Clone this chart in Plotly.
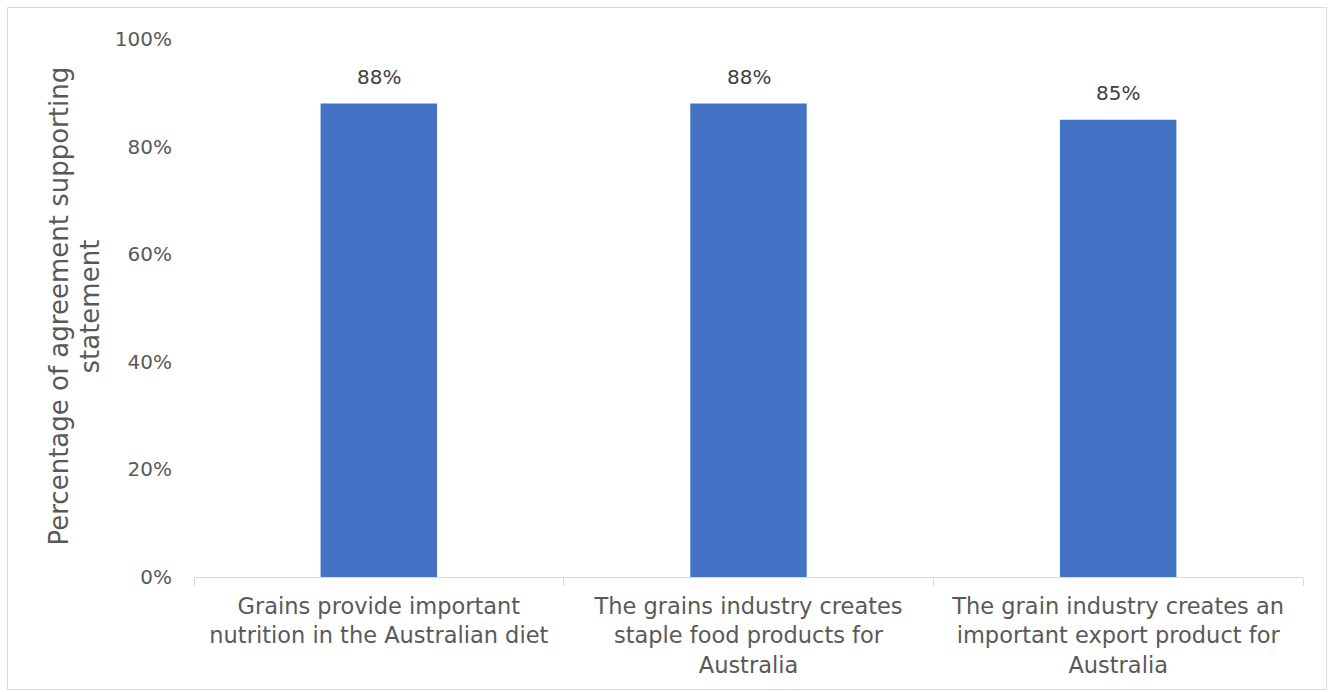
import plotly.graph_objects as go

categories = [
    "Grains provide important<br>nutrition in the Australian diet",
    "The grains industry creates<br>staple food products for<br>Australia",
    "The grain industry creates an<br>important export product for<br>Australia",
]
values = [88, 88, 85]
value_labels = ["88%", "88%", "85%"]
y_ticks = [0, 20, 40, 60, 80, 100]
y_tick_labels = ["0%", "20%", "40%", "60%", "80%", "100%"]
y_title_lines = ["Percentage of agreement supporting", "statement"]

FONT = "'DejaVu Sans', sans-serif"
GREY = "#595959"

fig = go.Figure(
    go.Bar(
        x=categories,
        y=values,
        marker=dict(color="#4472C4", line=dict(width=0)),
        width=0.315,
        hoverinfo="skip",
    )
)

for c, v, t in zip(categories, values, value_labels):
    fig.add_annotation(
        x=c, y=v, text=t, showarrow=False,
        yanchor="bottom", yshift=13,
        font=dict(family=FONT, size=20, color="#404040"),
    )

L, R, T, B = 194, 26, 39, 115
W, H = 1329, 692
pw, ph = W - L - R, H - T - B

def px_x(p):
    return (p - L) / pw

def px_y(p):
    return (H - B - p) / ph

fig.add_shape(
    type="rect", xref="paper", yref="paper",
    x0=px_x(7.5), x1=px_x(1326.5), y0=px_y(689.5), y1=px_y(7.5),
    line=dict(color="#d9d9d9", width=1), fillcolor="rgba(0,0,0,0)", layer="below",
)

for line_text, cx in zip(y_title_lines, [58, 89]):
    fig.add_annotation(
        xref="paper", yref="paper", x=px_x(cx), y=px_y(306.5),
        xanchor="center", yanchor="middle", textangle=-90,
        text=line_text, showarrow=False,
        font=dict(family=FONT, size=26, color=GREY),
    )

fig.update_layout(
    width=W, height=H,
    margin=dict(l=L, r=R, t=T, b=B),
    paper_bgcolor="white", plot_bgcolor="white",
    showlegend=False,
    font=dict(family=FONT, color=GREY),
    xaxis=dict(
        type="category",
        showline=True, linecolor="#d9d9d9", linewidth=1,
        ticks="outside", tickson="boundaries", ticklen=8, tickcolor="#d9d9d9",
        tickfont=dict(family=FONT, size=22.5, color=GREY),
        ticklabelstandoff=9,
        showgrid=False, zeroline=False,
    ),
    yaxis=dict(
        range=[0, 100],
        tickvals=y_ticks, ticktext=y_tick_labels,
        tickfont=dict(family=FONT, size=20, color=GREY),
        showgrid=False, zeroline=False, showline=False,
        ticks="", ticklabelstandoff=21,
    ),
)

fig.write_html("out.html")
